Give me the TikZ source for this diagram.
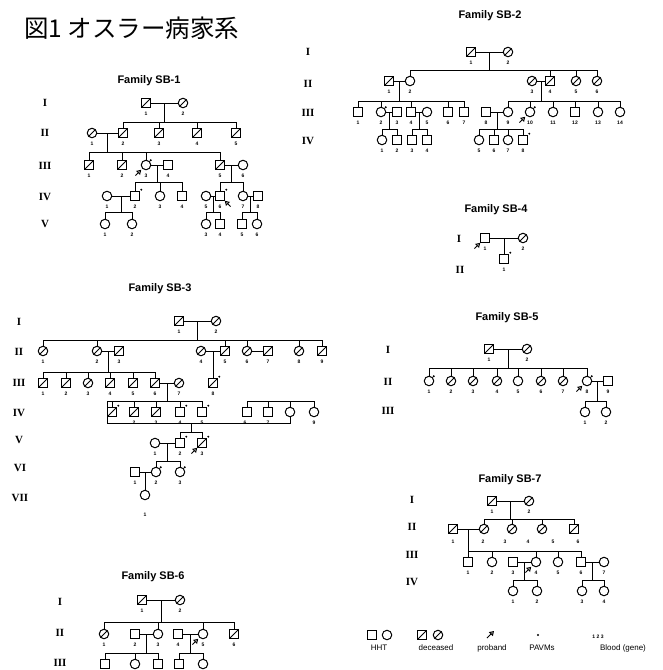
\documentclass[tikz,border=0pt]{standalone}
\usepackage{fontspec}
\setmainfont{Liberation Sans}
\newfontfamily\cjkf{Noto Sans CJK JP}
\newfontfamily\serf{Liberation Serif}
\usetikzlibrary{calc,arrows.meta}
\newcommand\numf{\fontsize{5}{5}\selectfont\bfseries}
\newcommand\genf{\serf\bfseries\fontsize{11}{11}\selectfont}
\newcommand\ttlf{\fontsize{11}{11}\selectfont\bfseries}
\newcommand\legf{\fontsize{8}{8}\selectfont}
\newcommand\desc[3]{\path ($(#1)!.5!(#2)$) coordinate (tmp); \draw[ln] (tmp) -- (tmp |- 0,#3);}
\newcommand\sibbar[3]{\draw[ln] (#1.north |- 0,#3) -- (#2.north |- 0,#3);}
\newcommand\drop[2]{\draw[ln] (#1.north) -- (#1.north |- 0,#2);}
\newcommand\prob[2]{\draw[prb] ([shift={(#2:15pt)}]#1.center) -- ([shift={(#2:6.8pt)}]#1.center);}
\begin{document}
\begin{tikzpicture}[x=1pt,y=-1pt,
 ln/.style={line width=0.75pt},
 sym/.style={draw,line width=1pt,inner sep=0pt,minimum size=9.5pt,fill=white},
 sq/.style={sym,rectangle},
 ci/.style={sym,circle},
 dec/.style={path picture={\draw[line width=0.9pt] (path picture bounding box.south west) -- (path picture bounding box.north east);}},
 pav/.style={label={[dotm]45:{}}},
 dotm/.style={circle,fill,inner sep=0pt,minimum size=2.2pt,label distance=0.2pt},
 nb/.style={label={[num]below:#1}},
 num/.style={font=\numf,inner sep=0pt,label distance=4pt},
 gen/.style={font=\genf,inner sep=0pt},
 ttl/.style={font=\ttlf,inner sep=0pt},
 leg/.style={font=\legf,inner sep=0pt},
 prb/.style={line width=1pt,-{Triangle[open,length=4.5pt,width=5.5pt]}},
]
\useasboundingbox[fill=white] (0,0) rectangle (662,670);

\node[font=\cjkf\fontsize{24.5}{25}\selectfont,anchor=west,inner sep=0pt] (title) at (24,28) {図1 オスラー病家系};

% ================= SB-1 =================
\node[ttl] (t1) at (149,81) {Family SB-1};
\node[gen] (a1) at (45,103) {I};
\node[gen] (a2) at (45,133) {II};
\node[gen] (a3) at (45,166) {III};
\node[gen] (a4) at (45,197) {IV};
\node[gen] (a5) at (45,224) {V};
\node[sq,dec,nb=1] (aI1) at (146,103) {};
\node[ci,dec,nb=2] (aI2) at (183,103) {};
\node[ci,dec,nb=1] (aII1) at (92,133) {};
\node[sq,dec,nb=2] (aII2) at (123,133) {};
\node[sq,dec,nb=3] (aII3) at (159,133) {};
\node[sq,dec,nb=4] (aII4) at (197,133) {};
\node[sq,dec,nb=5] (aII5) at (236,133) {};
\node[sq,dec,nb=1] (aIII1) at (89,165) {};
\node[sq,dec,nb=2] (aIII2) at (122,165) {};
\node[ci,pav,nb=3] (aIII3) at (146,165) {};
\node[sq,nb=4] (aIII4) at (168,165) {};
\node[sq,dec,nb=5] (aIII5) at (220,165) {};
\node[ci,nb=6] (aIII6) at (243,165) {};
\node[ci,nb=1] (aIV1) at (107,196) {};
\node[sq,pav,nb=2] (aIV2) at (135,196) {};
\node[ci,nb=3] (aIV3) at (160,196) {};
\node[sq,nb=4] (aIV4) at (182,196) {};
\node[ci,nb=5] (aIV5) at (206,196) {};
\node[sq,pav,nb=6] (aIV6) at (220,196) {};
\node[ci,nb=7] (aIV7) at (243,196) {};
\node[sq,nb=8] (aIV8) at (258,196) {};
\node[ci,nb=1] (aV1) at (105,224) {};
\node[ci,nb=2] (aV2) at (132,224) {};
\node[ci,nb=3] (aV3) at (206,224) {};
\node[sq,nb=4] (aV4) at (220,224) {};
\node[sq,nb=5] (aV5) at (242,224) {};
\node[ci,nb=6] (aV6) at (257,224) {};
\draw[ln] (aI1) -- (aI2);
\desc{aI1}{aI2}{122} \sibbar{aII2}{aII5}{122}
\foreach \c in {aII2,aII3,aII4,aII5} {\drop{\c}{122}}
\draw[ln] (aII1) -- (aII2);
\desc{aII1}{aII2}{152} \sibbar{aIII1}{aIII5}{152}
\foreach \c in {aIII1,aIII2,aIII3,aIII5} {\drop{\c}{152}}
\draw[ln] (aIII3) -- (aIII4);
\desc{aIII3}{aIII4}{182} \sibbar{aIV2}{aIV4}{182}
\foreach \c in {aIV2,aIV3,aIV4} {\drop{\c}{182}}
\draw[ln] (aIII5) -- (aIII6);
\desc{aIII5}{aIII6}{182} \sibbar{aIV6}{aIV7}{182}
\foreach \c in {aIV6,aIV7} {\drop{\c}{182}}
\draw[ln] (aIV1) -- (aIV2);
\desc{aIV1}{aIV2}{212} \sibbar{aV1}{aV2}{212}
\foreach \c in {aV1,aV2} {\drop{\c}{212}}
\draw[ln] (aIV5) -- (aIV6);
\desc{aIV5}{aIV6}{212} \sibbar{aV3}{aV4}{212}
\foreach \c in {aV3,aV4} {\drop{\c}{212}}
\draw[ln] (aIV7) -- (aIV8);
\desc{aIV7}{aIV8}{212} \sibbar{aV5}{aV6}{212}
\foreach \c in {aV5,aV6} {\drop{\c}{212}}
\prob{aIII3}{225}
\prob{aIV6}{-45}

% ================= SB-2 =================
\node[ttl] (t2) at (490,16) {Family SB-2};
\node[gen] (b1) at (308,52) {I};
\node[gen] (b2) at (308,84) {II};
\node[gen] (b3) at (308,113) {III};
\node[gen] (b4) at (308,141) {IV};
\node[sq,dec,nb=1] (bI1) at (471,52) {};
\node[ci,dec,nb=2] (bI2) at (508,52) {};
\node[sq,dec,nb=1] (bII1) at (389,81) {};
\node[ci,nb=2] (bII2) at (410,81) {};
\node[ci,dec,nb=3] (bII3) at (532,81) {};
\node[sq,dec,nb=4] (bII4) at (550,81) {};
\node[ci,dec,nb=5] (bII5) at (576,81) {};
\node[ci,dec,nb=6] (bII6) at (597,81) {};
\node[sq,nb=1] (bIII1) at (358,112) {};
\node[ci,pav,nb=2] (bIII2) at (381,112) {};
\node[sq,nb=3] (bIII3) at (397,112) {};
\node[sq,nb=4] (bIII4) at (411,112) {};
\node[ci,nb=5] (bIII5) at (427,112) {};
\node[sq,nb=6] (bIII6) at (448,112) {};
\node[sq,nb=7] (bIII7) at (464,112) {};
\node[sq,nb=8] (bIII8) at (486,112) {};
\node[ci,nb=9] (bIII9) at (508,112) {};
\node[ci,pav,nb=10] (bIII10) at (530,112) {};
\node[ci,nb=11] (bIII11) at (553,112) {};
\node[sq,nb=12] (bIII12) at (575,112) {};
\node[ci,nb=13] (bIII13) at (598,112) {};
\node[ci,nb=14] (bIII14) at (620,112) {};
\node[ci,nb=1] (bIV1) at (382,140) {};
\node[sq,nb=2] (bIV2) at (397,140) {};
\node[sq,nb=3] (bIV3) at (412,140) {};
\node[sq,nb=4] (bIV4) at (427,140) {};
\node[ci,nb=5] (bIV5) at (479,140) {};
\node[sq,nb=6] (bIV6) at (494,140) {};
\node[ci,nb=7] (bIV7) at (508,140) {};
\node[sq,pav,nb=8] (bIV8) at (523,140) {};
\draw[ln] (bI1) -- (bI2);
\desc{bI1}{bI2}{70} \sibbar{bII2}{bII6}{70}
\foreach \c in {bII2,bII4,bII5,bII6} {\drop{\c}{70}}
\draw[ln] (bII1) -- (bII2);
\desc{bII1}{bII2}{101} \sibbar{bIII1}{bIII7}{101}
\foreach \c in {bIII1,bIII2,bIII4,bIII6,bIII7} {\drop{\c}{101}}
\draw[ln] (bII3) -- (bII4);
\desc{bII3}{bII4}{101} \sibbar{bIII9}{bIII14}{101}
\foreach \c in {bIII9,bIII10,bIII11,bIII12,bIII13,bIII14} {\drop{\c}{101}}
\draw[ln] (bIII8) -- (bIII9);
\draw[ln] (bIII2) -- (bIII3);
\desc{bIII2}{bIII3}{129} \sibbar{bIV1}{bIV2}{129}
\foreach \c in {bIV1,bIV2} {\drop{\c}{129}}
\draw[ln] (bIII4) -- (bIII5);
\desc{bIII4}{bIII5}{129} \sibbar{bIV3}{bIV4}{129}
\foreach \c in {bIV3,bIV4} {\drop{\c}{129}}
\desc{bIII8}{bIII9}{129} \sibbar{bIV5}{bIV8}{129}
\foreach \c in {bIV5,bIV6,bIV7,bIV8} {\drop{\c}{129}}
\prob{bIII10}{225}

% ================= SB-4 =================
\node[ttl] (t4) at (496,210) {Family SB-4};
\node[gen] (d1) at (459,239) {I};
\node[gen] (d2) at (460,270) {II};
\node[sq,nb=1] (dI1) at (485,238) {};
\node[ci,dec,nb=2] (dI2) at (523,238) {};
\node[sq,pav,nb=1] (dII1) at (504,259) {};
\draw[ln] (dI1) -- (dI2);
\path ($(dI1)!.5!(dI2)$) coordinate (dm);
\draw[ln] (dm) -- (dII1.north);
\prob{dI1}{225}

% ================= SB-5 =================
\node[ttl] (t5) at (507,318) {Family SB-5};
\node[gen] (e1) at (388,350) {I};
\node[gen] (e2) at (388,382) {II};
\node[gen] (e3) at (388,411) {III};
\node[sq,dec,nb=1] (eI1) at (489,349) {};
\node[ci,dec,nb=2] (eI2) at (527,349) {};
\node[ci,pav,nb=1] (eII1) at (429,381) {};
\node[ci,dec,nb=2] (eII2) at (451,381) {};
\node[ci,dec,nb=3] (eII3) at (473,381) {};
\node[ci,dec,nb=4] (eII4) at (497,381) {};
\node[ci,nb=5] (eII5) at (518,381) {};
\node[ci,dec,nb=6] (eII6) at (541,381) {};
\node[ci,dec,nb=7] (eII7) at (563,381) {};
\node[ci,pav,nb=8] (eII8) at (587,381) {};
\node[sq,nb=9] (eII9) at (608,381) {};
\node[ci,nb=1] (eIII1) at (585,412) {};
\node[ci,nb=2] (eIII2) at (606,412) {};
\draw[ln] (eI1) -- (eI2);
\desc{eI1}{eI2}{368} \sibbar{eII1}{eII8}{368}
\foreach \c in {eII1,eII2,eII3,eII4,eII5,eII6,eII7,eII8} {\drop{\c}{368}}
\draw[ln] (eII8) -- (eII9);
\desc{eII8}{eII9}{401} \sibbar{eIII1}{eIII2}{401}
\foreach \c in {eIII1,eIII2} {\drop{\c}{401}}
\prob{eII8}{225}

% ================= SB-3 =================
\node[ttl] (t3) at (160,289) {Family SB-3};
\node[gen] (c1) at (19,322) {I};
\node[gen] (c2) at (19,352) {II};
\node[gen] (c3) at (19,383) {III};
\node[gen] (c4) at (19,413) {IV};
\node[gen] (c5) at (19,440) {V};
\node[gen] (c6) at (20,468) {VI};
\node[gen] (c7) at (20,498) {VII};
\node[sq,dec,nb=1] (cI1) at (179,321) {};
\node[ci,dec,nb=2] (cI2) at (216,321) {};
\node[ci,dec,nb=1] (cII1) at (43,351) {};
\node[ci,dec,nb=2] (cII2) at (97,351) {};
\node[sq,dec,nb=3] (cII3) at (119,351) {};
\node[ci,dec,nb=4] (cII4) at (201,351) {};
\node[sq,dec,nb=5] (cII5) at (225,351) {};
\node[ci,dec,nb=6] (cII6) at (247,351) {};
\node[sq,dec,nb=7] (cII7) at (268,351) {};
\node[ci,dec,nb=8] (cII8) at (299,351) {};
\node[sq,dec,nb=9] (cII9) at (322,351) {};
\node[sq,dec,nb=1] (cIII1) at (43,383) {};
\node[sq,dec,nb=2] (cIII2) at (66,383) {};
\node[ci,dec,nb=3] (cIII3) at (88,383) {};
\node[sq,dec,nb=4] (cIII4) at (110,383) {};
\node[sq,dec,nb=5] (cIII5) at (133,383) {};
\node[sq,dec,nb=6] (cIII6) at (155,383) {};
\node[ci,dec,nb=7] (cIII7) at (179,383) {};
\node[sq,dec,pav,nb=8] (cIII8) at (213,383) {};
\node[sq,dec,pav] (cIV1) at (112,412) {};
\node[sq,dec] (cIV2) at (134,412) {};
\node[sq,dec] (cIV3) at (156,412) {};
\node[sq,pav] (cIV4) at (180,412) {};
\node[sq,pav] (cIV5) at (202,412) {};
\node[sq] (cIV6) at (247,412) {};
\node[sq] (cIV7) at (268,412) {};
\node[ci] (cIV8) at (290,412) {};
\node[ci,nb=9] (cIV9) at (314,412) {};
\node[ci,nb=1] (cV1) at (155,443) {};
\node[sq,pav,nb=2] (cV2) at (180,443) {};
\node[sq,dec,pav,nb=3] (cV3) at (202,443) {};
\node[sq,nb=1] (cVI1) at (135,472) {};
\node[ci,pav,nb=2] (cVI2) at (156,472) {};
\node[ci,pav,nb=3] (cVI3) at (180,472) {};
\node[ci,label={[num,label distance=13pt]below:1}] (cVII1) at (145,495) {};
\draw[ln] (cI1) -- (cI2);
\desc{cI1}{cI2}{340} \sibbar{cII1}{cII9}{340}
\foreach \c in {cII1,cII2,cII5,cII6,cII8,cII9} {\drop{\c}{340}}
\draw[ln] (cII2) -- (cII3);
\desc{cII2}{cII3}{372} \sibbar{cIII1}{cIII6}{372}
\foreach \c in {cIII1,cIII2,cIII3,cIII4,cIII5,cIII6} {\drop{\c}{372}}
\draw[ln] (cII4) -- (cII5);
\path ($(cII4)!.5!(cII5)$) coordinate (cm45);
\draw[ln] (cm45) -- (cIII8.north);
\draw[ln] (cII6) -- (cII7);
\draw[ln] (cIII6) -- (cIII7);
\desc{cIII6}{cIII7}{401}
\coordinate (cL) at (107,401);
\coordinate (cB) at (107,423);
\draw[ln] (cIV5.north |- cL) -- (cL) -- (cB) -- (cIV8.south |- cB) -- (cIV8.south);
\foreach \c in {cIV1,cIV2,cIV3,cIV4,cIV5} {\drop{\c}{401}}
\sibbar{cIV6}{cIV9}{401}
\foreach \c in {cIV6,cIV7,cIV8,cIV9} {\drop{\c}{401}}
\foreach \x/\t in {134/2,156/3,180/4,202/5,245/6,268/7} {\node[font=\numf,inner sep=0pt] at (\x,423) {\t};}
\coordinate (cD) at (191,423);
\draw[ln] (cD) -- (cD |- 0,432);
\sibbar{cV2}{cV3}{432}
\foreach \c in {cV2,cV3} {\drop{\c}{432}}
\draw[ln] (cV1) -- (cV2);
\desc{cV1}{cV2}{461} \sibbar{cVI2}{cVI3}{461}
\foreach \c in {cVI2,cVI3} {\drop{\c}{461}}
\draw[ln] (cVI1) -- (cVI2);
\path ($(cVI1)!.5!(cVI2)$) coordinate (cm6);
\draw[ln] (cm6) -- (cm6 |- cVII1.north);
\prob{cV3}{225}

% ================= SB-6 =================
\node[ttl] (t6) at (153,577) {Family SB-6};
\node[gen] (f1) at (60,602) {I};
\node[gen] (f2) at (60,633) {II};
\node[gen] (f3) at (60,663) {III};
\node[sq,dec,nb=1] (fI1) at (142,600) {};
\node[ci,dec,nb=2] (fI2) at (180,600) {};
\node[ci,dec,nb=1] (fII1) at (104,634) {};
\node[sq,nb=2] (fII2) at (135,634) {};
\node[ci,nb=3] (fII3) at (158,634) {};
\node[sq,nb=4] (fII4) at (178,634) {};
\node[ci,nb=5] (fII5) at (203,634) {};
\node[sq,dec,nb=6] (fII6) at (234,634) {};
\node[sq] (fIII1) at (105,664) {};
\node[ci] (fIII2) at (135,664) {};
\node[sq] (fIII3) at (158,664) {};
\node[sq] (fIII4) at (179,664) {};
\node[ci] (fIII5) at (203,664) {};
\draw[ln] (fI1) -- (fI2);
\desc{fI1}{fI2}{622} \sibbar{fII1}{fII6}{622}
\foreach \c in {fII1,fII3,fII5,fII6} {\drop{\c}{622}}
\draw[ln] (fII2) -- (fII3);
\desc{fII2}{fII3}{653} \sibbar{fIII1}{fIII3}{653}
\foreach \c in {fIII1,fIII2,fIII3} {\drop{\c}{653}}
\draw[ln] (fII4) -- (fII5);
\desc{fII4}{fII5}{653} \sibbar{fIII4}{fIII5}{653}
\foreach \c in {fIII4,fIII5} {\drop{\c}{653}}
\prob{fII5}{225}

% ================= SB-7 =================
\node[ttl] (t7) at (510,480) {Family SB-7};
\node[gen] (g1) at (412,500) {I};
\node[gen] (g2) at (412,527) {II};
\node[gen] (g3) at (412,555) {III};
\node[gen] (g4) at (412,582) {IV};
\node[sq,dec,nb=1] (gI1) at (492,501) {};
\node[ci,dec,nb=2] (gI2) at (529,501) {};
\node[sq,dec] (gII1) at (453,529) {};
\node[ci,dec] (gII2) at (484,529) {};
\node[ci,dec] (gII3) at (512,529) {};
\node[ci,dec] (gII4) at (542,529) {};
\node[sq,dec] (gII5) at (574,529) {};
\foreach \x/\t in {453/1,483/2,505/3,528/4,553/5,578/6} {\node[font=\numf,inner sep=0pt] at (\x,542) {\t};}
\node[sq,nb=1] (gIII1) at (468,562) {};
\node[ci,nb=2] (gIII2) at (492,562) {};
\node[sq,nb=3] (gIII3) at (513,562) {};
\node[ci,nb=4] (gIII4) at (536,562) {};
\node[ci,nb=5] (gIII5) at (558,562) {};
\node[sq,nb=6] (gIII6) at (581,562) {};
\node[ci,nb=7] (gIII7) at (604,562) {};
\node[ci,nb=1] (gIV1) at (513,591) {};
\node[ci,nb=2] (gIV2) at (537,591) {};
\node[ci,nb=3] (gIV3) at (582,591) {};
\node[ci,nb=4] (gIV4) at (604,591) {};
\draw[ln] (gI1) -- (gI2);
\desc{gI1}{gI2}{519} \sibbar{gII2}{gII5}{519}
\foreach \c in {gII2,gII3,gII4,gII5} {\drop{\c}{519}}
\draw[ln] (gII1) -- (gII2);
\desc{gII1}{gII2}{551} \sibbar{gIII1}{gIII6}{551}
\foreach \c in {gIII1,gIII2,gIII4,gIII5,gIII6} {\drop{\c}{551}}
\draw[ln] (gIII3) -- (gIII4);
\desc{gIII3}{gIII4}{580} \sibbar{gIV1}{gIV2}{580}
\foreach \c in {gIV1,gIV2} {\drop{\c}{580}}
\draw[ln] (gIII6) -- (gIII7);
\desc{gIII6}{gIII7}{580} \sibbar{gIV3}{gIV4}{580}
\foreach \c in {gIV3,gIV4} {\drop{\c}{580}}
\prob{gIII4}{225}

% ================= Legend =================
\node[sq] (lsq) at (372,635) {};
\node[ci] (lci) at (387,635) {};
\node[leg] (lhht) at (379,648) {HHT};
\node[sq,dec] (ldsq) at (422,635) {};
\node[ci,dec] (ldci) at (438,635) {};
\node[leg] (ldec) at (436,648) {deceased};
\coordinate (lp) at (494,631);
\draw[prb] ([shift={(225:10pt)}]lp) -- (lp);
\node[leg] (lprob) at (492,648) {proband};
\node[circle,fill,inner sep=0pt,minimum size=2.4pt] (ldot) at (538,635) {};
\node[leg] (lpav) at (542,648) {PAVMs};
\node[font=\numf,inner sep=0pt] (lnum) at (598,637) {1 2 3};
\node[leg] (lblood) at (623,648) {Blood (gene)};
\end{tikzpicture}
\end{document}
